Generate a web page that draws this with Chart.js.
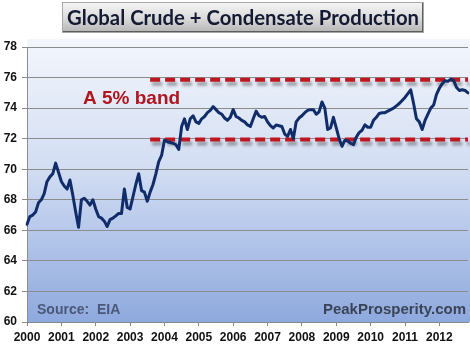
<!DOCTYPE html>
<html>
<head>
<meta charset="utf-8">
<script src="https://cdn.jsdelivr.net/npm/chart.js@4.4.1/dist/chart.umd.min.js"></script>
<style>
  body { margin: 0; background: #fff; }
  #wrap { width: 470px; height: 345px; }
</style>
</head>
<body>
<div id="wrap"><canvas id="oilChart" width="470" height="345"></canvas></div>
<script>
// tick labels (one per January)
var years = ["2000", "2001", "2002", "2003", "2004", "2005", "2006",
             "2007", "2008", "2009", "2010", "2011", "2012"];

// monthly crude + condensate production, million barrels/day, from Jan 2000
var production = [
  66.4, 66.9, 67.0, 67.2, 67.8, 68.0, 68.4, 69.2, 69.5, 69.7, 70.4, 69.8,   // 2000
  69.2, 68.9, 68.7, 69.3, 68.3, 67.2, 66.2, 68.0, 68.1, 67.9, 67.65, 68.0,  // 2001
  67.4, 66.9, 66.8, 66.6, 66.25, 66.7, 66.8, 66.95, 67.1, 67.1, 68.7, 67.5, // 2002
  67.4, 68.2, 69.0, 69.7, 68.6, 68.5, 67.9, 68.5, 69.0, 69.7, 70.5, 70.9,   // 2003
  71.9, 71.8, 71.75, 71.7, 71.6, 71.3, 72.8, 73.3, 72.6, 73.3, 73.5, 73.1,  // 2004
  73.0, 73.3, 73.45, 73.7, 73.85, 74.1, 73.9, 73.7, 73.6, 73.35, 73.2, 73.4, // 2005
  73.9, 73.45, 73.35, 73.2, 73.1, 72.9, 72.8, 73.3, 73.8, 73.5, 73.4, 73.45, // 2006
  73.1, 72.85, 72.7, 72.9, 72.85, 72.8, 72.3, 72.15, 72.6, 72.0, 73.1, 73.35, // 2007
  73.5, 73.7, 73.85, 73.9, 73.9, 73.6, 73.75, 74.4, 74.0, 72.6, 72.7, 73.4,  // 2008
  72.7, 72.0, 71.5, 71.9, 71.85, 71.7, 71.6, 72.1, 72.4, 72.55, 72.9, 72.75, // 2009
  72.75, 73.2, 73.4, 73.65, 73.7, 73.7, 73.8, 73.9, 74.0, 74.15, 74.3, 74.5, // 2010
  74.7, 74.95, 75.2, 74.3, 73.3, 73.1, 72.6, 73.2, 73.6, 74.0, 74.2, 74.9,   // 2011
  75.3, 75.6, 75.8, 75.75, 75.9, 75.8, 75.35, 75.15, 75.2, 75.15, 75.0       // 2012
];

// the 5% band: upper / lower edge and the month it starts
var bandHigh = 75.85;
var bandLow = 71.95;
var bandStart = 43;

var months = [];
for (var i = 0; i < production.length; i++) {
    months.push(years[Math.floor(i / 12)] + "-" + (i % 12 + 1));
}
var upper = months.map(function(m, i) { return i >= bandStart ? bandHigh : null; });
var lower = months.map(function(m, i) { return i >= bandStart ? bandLow : null; });

var decor = {
    id: 'decor',
    beforeDraw: function(chart) {
        var ctx = chart.ctx, a = chart.chartArea;
        ctx.save();
        ctx.fillStyle = '#ffffff';
        ctx.fillRect(0, 0, chart.width, chart.height);
        var g = ctx.createLinearGradient(0, a.top - 8, 0, a.bottom);
        g.addColorStop(0, '#f3f6fc');
        g.addColorStop(0.45, '#d3def3');
        g.addColorStop(1, '#8ea9de');
        ctx.fillStyle = g;
        ctx.fillRect(a.left, a.top - 8, chart.width - a.left, a.bottom - a.top + 8);
        ctx.restore();
    },
    beforeDatasetDraw: function(chart, args) {
        if (args.index > 0) {
            var ctx = chart.ctx;
            ctx.save();
            ctx.shadowColor = 'rgba(60,60,60,0.45)';
            ctx.shadowOffsetX = 2;
            ctx.shadowOffsetY = 4;
            ctx.shadowBlur = 3;
        }
    },
    afterDatasetDraw: function(chart, args) {
        if (args.index > 0) chart.ctx.restore();
    },
    afterDraw: function(chart) {
        var ctx = chart.ctx;
        ctx.save();
        // title button
        var bx = 62, by = 2, bw = 362, bh = 31;
        var g = ctx.createLinearGradient(0, by, 0, by + bh);
        g.addColorStop(0, '#f6f6f6');
        g.addColorStop(0.5, '#dcdcdc');
        g.addColorStop(1, '#b4b4b4');
        ctx.fillStyle = g;
        ctx.fillRect(bx, by, bw, bh);
        ctx.strokeStyle = '#5c5c5c';
        ctx.lineWidth = 2;
        ctx.beginPath();
        ctx.moveTo(bx + bw - 1, by);
        ctx.lineTo(bx + bw - 1, by + bh - 1);
        ctx.lineTo(bx, by + bh - 1);
        ctx.stroke();
        ctx.strokeStyle = '#a8a8a8';
        ctx.lineWidth = 1;
        ctx.strokeRect(bx + 0.5, by + 0.5, bw - 1, bh - 1);

        var title = 'Global Crude + Condensate Production';
        ctx.font = 'bold 19px Lato';
        var w = ctx.measureText(title).width;
        var size = 19 * 352 / w;
        ctx.font = 'bold ' + size.toFixed(1) + 'px Lato';
        ctx.fillStyle = '#141a33';
        ctx.textAlign = 'center';
        ctx.textBaseline = 'alphabetic';
        ctx.fillText(title, bx + bw / 2, 25);

        // notes
        ctx.textAlign = 'left';
        ctx.font = 'bold 19px "Liberation Sans"';
        ctx.fillStyle = '#b0161e';
        ctx.fillText('A 5% band', 83, 104);

        ctx.font = 'bold 14px "Liberation Sans"';
        ctx.fillStyle = '#4b5877';
        ctx.fillText('Source:  EIA', 37, 314);

        ctx.textAlign = 'right';
        ctx.font = 'bold 15px "Liberation Sans"';
        ctx.fillStyle = '#3b4457';
        ctx.fillText('PeakProsperity.com', 466, 314);
        ctx.restore();
    }
};

var ctxL = document.getElementById('oilChart').getContext('2d');
var oilChart = new Chart(ctxL, {
    type: 'line',
    data: {
        labels: months,
        datasets: [{
            label: 'Crude + Condensate',
            data: production,
            borderColor: '#102d6a',
            borderWidth: 3,
            pointRadius: 0,
            tension: 0,
            borderJoinStyle: 'round',
            borderCapStyle: 'round'
        }, {
            label: 'band high',
            data: upper,
            borderColor: '#c0161f',
            borderWidth: 4,
            borderDash: [10, 5],
            pointRadius: 0
        }, {
            label: 'band low',
            data: lower,
            borderColor: '#c0161f',
            borderWidth: 4,
            borderDash: [10, 5],
            pointRadius: 0
        }]
    },
    options: {
        responsive: false,
        animation: false,
        layout: { padding: { top: 47, right: 2, left: 0, bottom: 0 } },
        plugins: {
            legend: { display: false },
            tooltip: { enabled: false },
            title: { display: false }
        },
        scales: {
            x: {
                type: 'category',
                offset: false,
                afterFit: function(s) { s.height = 23; },
                grid: { drawOnChartArea: false, drawTicks: true, tickLength: 4, color: '#8a8a8a' },
                border: { color: '#8a8a8a' },
                ticks: {
                    autoSkip: false,
                    maxRotation: 0,
                    padding: 4,
                    color: '#111',
                    font: { family: 'Liberation Sans', size: 12, weight: 'bold' },
                    callback: function(v, idx) { return idx % 12 === 0 ? years[idx / 12] : null; }
                }
            },
            y: {
                min: 60,
                max: 78,
                afterFit: function(s) { s.width = 27; },
                grid: { color: '#8c8c8c', tickLength: 5 },
                border: { color: '#8c8c8c' },
                ticks: {
                    stepSize: 2,
                    padding: 5,
                    color: '#111',
                    font: { family: 'Liberation Sans', size: 12, weight: 'bold' }
                }
            }
        }
    },
    plugins: [decor]
});
</script>
</body>
</html>
